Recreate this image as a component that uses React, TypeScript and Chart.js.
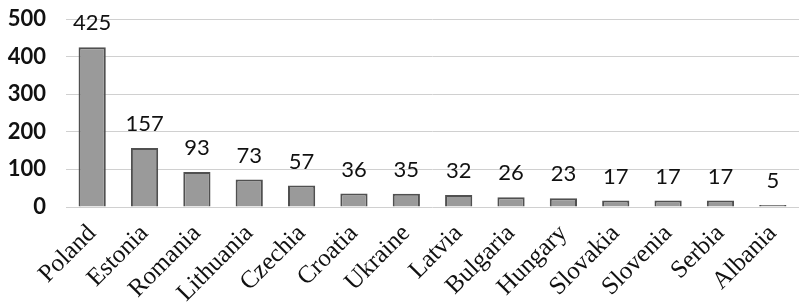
import React, { useEffect, useRef } from "react";
import { Chart, registerables } from "chart.js";

Chart.register(...registerables);

const categories = ["Poland", "Estonia", "Romania", "Lithuania", "Czechia", "Croatia", "Ukraine", "Latvia", "Bulgaria", "Hungary", "Slovakia", "Slovenia", "Serbia", "Albania"];
const values = [425, 157, 93, 73, 57, 36, 35, 32, 26, 23, 17, 17, 17, 5];
const yTicks = [0, 100, 200, 300, 400, 500];

const valueLabels = {
  id: "valueLabels",
  afterDatasetsDraw(chart: any) {
    const ctx = chart.ctx;
    const meta = chart.getDatasetMeta(0);
    ctx.save();
    ctx.font = "22px Lato";
    ctx.fillStyle = "#111";
    ctx.textAlign = "center";
    ctx.textBaseline = "middle";
    meta.data.forEach((bar: any, i: number) => {
      ctx.fillText(String(values[i]), bar.x, bar.y - 24);
    });
    ctx.restore();
  },
};

export default function App() {
  const ref = useRef<HTMLCanvasElement>(null);
  useEffect(() => {
    document.body.style.margin = "0";
    const canvas = ref.current!;
    const c2d = canvas.getContext("2d")!;
    const chart = new Chart(canvas, {
      type: "bar",
      data: {
        labels: categories,
        datasets: [
          {
            data: values,
            backgroundColor: (ctx: any) => {
              const el = ctx.element;
              if (!el || el.x === undefined) return "#9a9a9a";
              const w = el.width || 27;
              const g = c2d.createLinearGradient(el.x - w / 2, 0, el.x + w / 2, 0);
              g.addColorStop(0, "#8e8e8e");
              g.addColorStop(0.5, "#a6a6a6");
              g.addColorStop(1, "#8e8e8e");
              return g;
            },
            borderColor: "#505050",
            borderWidth: 2,
            categoryPercentage: 1,
            barPercentage: 0.52,
          },
        ],
      },
      options: {
        responsive: false,
        animation: false,
        layout: { padding: { top: 19, right: 5, left: 0, bottom: 0 } },
        plugins: { legend: { display: false }, tooltip: { enabled: false } },
        scales: {
          x: {
            grid: { display: false },
            border: { display: false },
            ticks: {
              color: "#111",
              font: { family: "Liberation Serif", size: 25 },
              maxRotation: 45,
              minRotation: 45,
              autoSkip: false,
              padding: 4,
            },
            afterFit: (s: any) => {
              s.height = 95;
              s.paddingTop = 0;
              s.paddingBottom = 0;
              s.paddingLeft = 0;
              s.paddingRight = 0;
            },
          },
          y: {
            min: 0,
            max: 500,
            afterBuildTicks: (s: any) => {
              s.ticks = yTicks.map((v) => ({ value: v }));
            },
            grid: { color: "#d0d0d0", lineWidth: 1, drawTicks: false },
            border: { display: false },
            ticks: {
              color: "#111",
              font: { family: "Lato", size: 22, weight: "bold" },
              padding: 20,
            },
            afterFit: (s: any) => {
              s.width = 66;
              s.paddingTop = 0;
              s.paddingBottom = 0;
            },
          },
        },
      },
      plugins: [valueLabels],
    });
    return () => chart.destroy();
  }, []);
  return <canvas ref={ref} width={804} height={302} style={{ display: "block" }} />;
}
